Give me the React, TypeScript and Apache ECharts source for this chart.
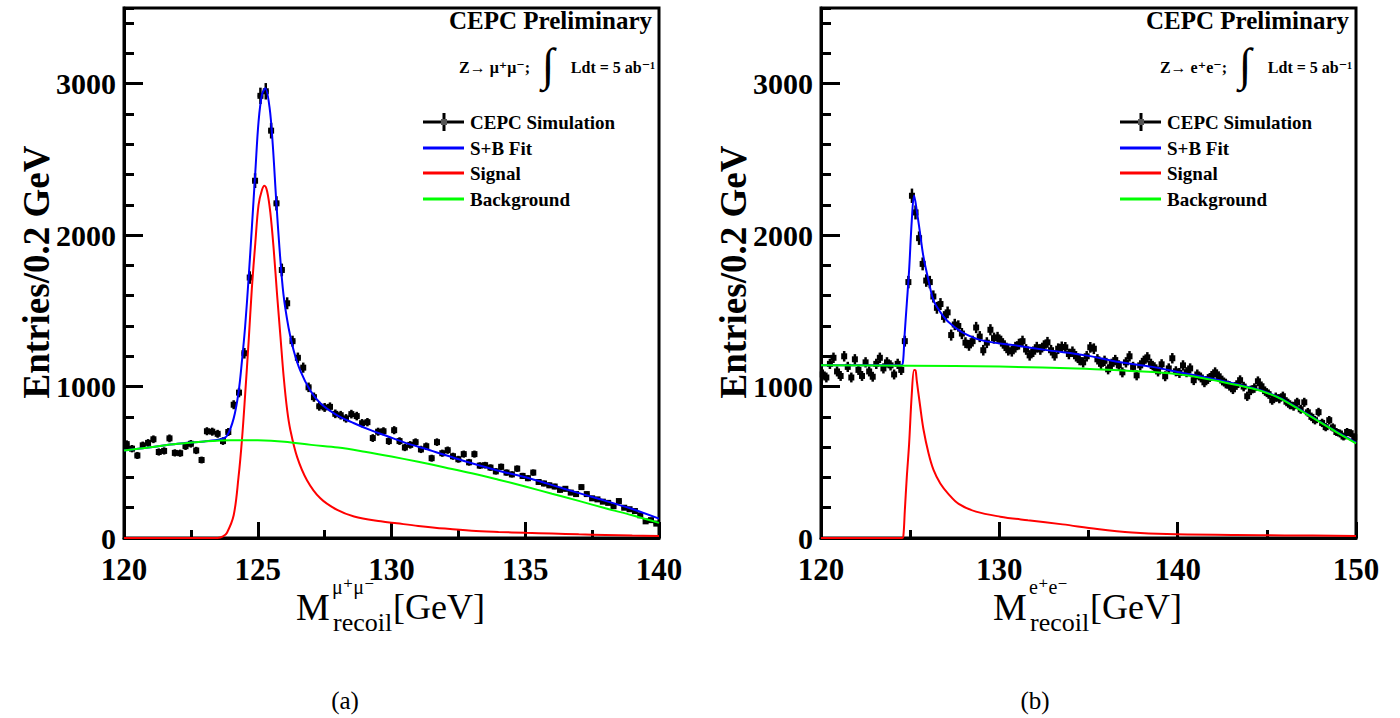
import React, { useEffect, useRef } from "react";
import * as echarts from "echarts";

const FONT = '"Liberation Serif", "DejaVu Serif", "Times New Roman", serif';
const binWidth = 0.2;

// ---------- panel (a): Z -> mu mu, 120-140 GeV, 0.2 GeV bins ----------
const binStartA = 120;
const countsA = [
  620, 590, 545, 612, 628, 652, 568, 575, 658, 562,
  560, 606, 622, 578, 515, 705, 702, 688, 640, 700,
  880, 960, 1220, 1720, 2360, 2920, 2950, 2690, 2210, 1770,
  1550, 1300, 1190, 1125, 995, 930, 870, 862, 866, 820,
  811, 790, 818, 805, 758, 765, 660, 702, 705, 640,
  712, 640, 598, 615, 633, 585, 606, 527, 633, 560,
  580, 540, 520, 554, 500, 554, 478, 481, 465, 440,
  470, 432, 420, 458, 410, 395, 432, 370, 360, 348,
  340, 318, 325, 300, 290, 336, 290, 262, 255, 240,
  232, 210, 244, 200, 190, 178, 150, 110, 118, 95,
];
const sbFitA: [number, number][] = [
  [120, 578], [121, 600], [122, 622], [123, 638], [123.6, 652], [123.85, 675],
  [124.1, 790], [124.28, 960], [124.41, 1170], [124.53, 1400], [124.66, 1720],
  [124.78, 2050], [124.91, 2420], [125.03, 2750], [125.16, 2930], [125.28, 2970],
  [125.44, 2845], [125.56, 2600], [125.69, 2230], [125.81, 1920], [125.96, 1610],
  [126.15, 1390], [126.34, 1240], [126.59, 1105], [126.96, 975], [127.34, 890],
  [127.97, 810], [128.6, 758], [129.22, 712], [129.85, 672], [130.5, 630],
  [131.44, 580], [132.68, 510], [133.93, 448], [135.18, 393], [136.42, 327],
  [137.67, 262], [138.92, 196], [140, 128],
];
const signalA: [number, number][] = [
  [120, 0], [123.5, 0], [123.7, 10], [123.85, 35], [124.1, 150], [124.28, 400],
  [124.41, 650], [124.53, 950], [124.66, 1300], [124.78, 1650], [124.91, 1950],
  [125.03, 2200], [125.16, 2300], [125.25, 2327], [125.35, 2290], [125.47, 2150],
  [125.6, 1898], [125.72, 1613], [125.85, 1327], [125.97, 1063], [126.1, 844],
  [126.22, 712], [126.47, 536], [126.84, 382], [127.34, 262], [127.97, 185],
  [128.6, 142], [129.6, 110], [130.2, 97], [131, 80], [132, 62], [133, 48],
  [134, 40], [135, 34], [136, 29], [137, 24], [138, 20], [139, 16], [140, 13],
];
const bkgA: [number, number][] = [
  [120, 578], [121, 600], [122, 622], [123, 638], [124, 646], [125, 645],
  [126, 636], [127, 615], [128, 598], [129, 570], [130, 538], [131, 503],
  [132, 466], [133, 428], [134, 385], [135, 340], [136, 292], [137, 245],
  [138, 196], [139, 150], [140, 100],
];

// ---------- panel (b): Z -> e e, 120-150 GeV, 0.2 GeV bins ----------
const binStartB = 120;
const countsB = [
  1080, 1060, 1150, 1190, 1100, 1070, 1200, 1130, 1060, 1180,
  1110, 1070, 1160, 1100, 1065, 1150, 1190, 1120, 1160, 1140,
  1080, 1150, 1110, 1300, 1690, 2260, 2150, 1980, 1810, 1700,
  1690, 1595, 1520, 1545, 1460, 1490, 1340, 1410, 1400, 1350,
  1290, 1272, 1300, 1390, 1330, 1240, 1290, 1375, 1320, 1325,
  1300, 1270, 1240, 1233, 1260, 1280, 1300, 1245, 1206, 1230,
  1260, 1245, 1270, 1292, 1240, 1206, 1250, 1262, 1259, 1215,
  1230, 1200, 1175, 1160, 1200, 1259, 1250, 1180, 1150, 1170,
  1114, 1150, 1175, 1140, 1094, 1160, 1200, 1130, 1074, 1140,
  1170, 1193, 1150, 1127, 1100, 1147, 1068, 1120, 1187, 1101,
  1090, 1140, 1095, 1120, 1042, 1080, 1060, 1028, 1050, 1070,
  1094, 1068, 1040, 1020, 1005, 982, 1010, 1042, 1000, 936,
  975, 990, 1035, 1002, 970, 950, 910, 930, 920, 936,
  900, 880, 870, 896, 850, 896, 830, 800, 778, 831,
  760, 732, 778, 730, 700, 690, 670, 700, 692, 666,
];
const sbFitB: [number, number][] = [
  [120, 1140], [124.5, 1141], [124.6, 1165], [124.68, 1327], [124.81, 1547],
  [124.94, 1767], [125.09, 2096], [125.22, 2261], [125.37, 2162], [125.56, 2009],
  [125.75, 1854], [126.03, 1701], [126.31, 1569], [126.69, 1492], [127.15, 1426],
  [127.9, 1360], [129.03, 1305], [130.9, 1272], [132.77, 1239], [134.83, 1206],
  [136.7, 1162], [138.58, 1130], [140.45, 1086], [142.32, 1042], [144.2, 990],
  [145.3, 948], [146.07, 904], [147.0, 838], [147.94, 771], [148.88, 704], [150, 630],
];
const signalB: [number, number][] = [
  [120, 0], [124.55, 0], [124.62, 15], [124.7, 180], [124.81, 400], [124.94, 620],
  [125.09, 950], [125.22, 1110], [125.3, 1107], [125.37, 1040], [125.56, 870],
  [125.75, 715], [126.03, 560], [126.31, 450], [126.69, 360], [127.15, 290],
  [127.72, 225], [128.69, 174], [130.05, 141], [131.6, 117], [133.55, 90],
  [135.49, 60], [137.44, 37], [139.38, 26], [143.26, 20], [146, 17], [150, 14],
];
const bkgB: [number, number][] = [
  [120, 1140], [125, 1138], [130, 1132], [134.83, 1118], [136.7, 1107],
  [138.58, 1096], [140.45, 1075], [142.32, 1035], [144.2, 987], [145.3, 945],
  [146.07, 901], [147.0, 835], [147.94, 768], [148.88, 701], [150, 625],
];

const legendLabels = ["CEPC Simulation", "S+B Fit", "Signal", "Background"];
const legendColors = ["#000000", "#0000ff", "#ff0000", "#00ff00"];

const toPoints = (start: number, counts: number[]) =>
  counts.map((v, i) => [start + binWidth * (i + 0.5), v]);

const renderErr = (_params: any, api: any) => {
  const x = api.value(0);
  const y = api.value(1);
  const e = Math.sqrt(y);
  const c = api.coord([x, y]);
  const l = api.coord([x - binWidth / 2, y]);
  const r = api.coord([x + binWidth / 2, y]);
  const t = api.coord([x, y + e]);
  const b = api.coord([x, y - e]);
  const style = { stroke: "#000", lineWidth: 2.5 };
  return {
    type: "group",
    children: [
      { type: "line", shape: { x1: l[0], y1: c[1], x2: r[0], y2: c[1] }, style },
      { type: "line", shape: { x1: c[0], y1: t[1], x2: c[0], y2: b[1] }, style },
      { type: "rect", shape: { x: c[0] - 3, y: c[1] - 3, width: 6, height: 6 }, style: { fill: "#000" } },
    ],
  };
};

function panelGraphics(dx: number, zText: string, sup: string, caption: string, captionX: number) {
  const els: any[] = [];
  const txt = (x: number, y: number, text: string, size: number, bold: boolean, align: string = "left", extra: any = {}) => ({
    type: "text",
    x,
    y,
    z: 100,
    ...extra,
    style: {
      text,
      fill: "#000",
      font: `${bold ? "bold " : ""}${size}px ${FONT}`,
      align,
      verticalAlign: "middle",
    },
  });
  els.push(txt(652 + dx, 20, "CEPC Preliminary", 25, true, "right"));
  els.push(txt(530 + dx, 67, zText, 16, true, "right"));
  els.push(txt(548 + dx, 64, "∫", 46, false, "center"));
  els.push(txt(655 + dx, 67, "Ldt = 5 ab⁻¹", 16, true, "right"));
  const ly = [122, 148, 173, 199];
  legendLabels.forEach((lab, i) => {
    els.push({
      type: "line",
      z: 100,
      shape: { x1: 423 + dx, y1: ly[i], x2: 464 + dx, y2: ly[i] },
      style: { stroke: legendColors[i], lineWidth: 3 },
    });
    els.push(txt(470 + dx, ly[i], lab, 19, true, "left"));
  });
  els.push({
    type: "line",
    z: 100,
    shape: { x1: 444 + dx, y1: ly[0] - 9, x2: 444 + dx, y2: ly[0] + 9 },
    style: { stroke: "#000", lineWidth: 3 },
  });
  els.push({
    type: "rect",
    z: 101,
    shape: { x: 441 + dx, y: ly[0] - 3, width: 6, height: 6 },
    style: { fill: "#555" },
  });
  // y title
  els.push(txt(36 + dx, 272, "Entries/0.2 GeV", 37, true, "center", { rotation: Math.PI / 2 }));
  // x title
  els.push(txt(296 + dx, 607, "M", 38, false, "left"));
  els.push(txt(332 + dx, 587, sup, 20, false, "left"));
  els.push(txt(333 + dx, 622, "recoil", 26, false, "left"));
  els.push(txt(393 + dx, 607, "[GeV]", 36, false, "left"));
  els.push(txt(captionX, 700, caption, 25, false, "center"));
  return els;
}

function makeXAxis(gridIndex: number, min: number, max: number, interval: number) {
  return {
    gridIndex,
    type: "value",
    min,
    max,
    interval,
    axisLine: { show: true, onZero: false, lineStyle: { color: "#000", width: 3 } },
    axisTick: { show: true, inside: true, length: 16, lineStyle: { color: "#000", width: 3 } },
    minorTick: { show: true, splitNumber: 2, length: 8, lineStyle: { color: "#000", width: 3 } },
    axisLabel: { color: "#000", fontFamily: FONT, fontWeight: "bold", fontSize: 31, margin: 16, formatter: (v: number) => String(v) },
    splitLine: { show: false },
    minorSplitLine: { show: false },
  };
}

function makeYAxes(gridIndex: number) {
  return [
    {
      gridIndex,
      type: "value",
      position: "left",
      min: 0,
      max: 3500,
      interval: 1000,
      axisLine: { show: true, onZero: false, lineStyle: { color: "#000", width: 3 } },
      axisTick: { show: true, inside: true, length: 19, lineStyle: { color: "#000", width: 3 } },
      axisLabel: { color: "#000", fontFamily: FONT, fontWeight: "bold", fontSize: 30, margin: 8, showMaxLabel: false, formatter: (v: number) => String(v) },
      splitLine: { show: false },
    },
    {
      gridIndex,
      type: "value",
      position: "left",
      offset: 0,
      min: 0,
      max: 3500,
      interval: 200,
      axisLine: { show: false },
      axisTick: { show: true, inside: true, length: 10, lineStyle: { color: "#000", width: 3 } },
      axisLabel: { show: false },
      splitLine: { show: false },
    },
  ];
}

function curves(xi: number, yi: number, sb: any, sig: any, bkg: any) {
  const base = { type: "line", xAxisIndex: xi, yAxisIndex: yi, symbol: "none", showSymbol: false, smooth: 0.35 };
  return [
    { ...base, name: "S+B Fit", data: sb, lineStyle: { color: "#0000ff", width: 2 }, z: 3 },
    { ...base, name: "Signal", data: sig, lineStyle: { color: "#ff0000", width: 2 }, z: 4 },
    { ...base, name: "Background", data: bkg, lineStyle: { color: "#00ff00", width: 2 }, z: 5 },
  ];
}

export default function App() {
  const ref = useRef<HTMLDivElement>(null);
  useEffect(() => {
    if (!ref.current) return;
    const chart = echarts.init(ref.current, undefined, { renderer: "svg" });
    const option: any = {
      animation: false,
      backgroundColor: "#ffffff",
      grid: [
        { left: 124, top: 8, width: 535, height: 530, show: true, borderColor: "#000", borderWidth: 3, backgroundColor: "transparent" },
        { left: 821, top: 8, width: 535, height: 530, show: true, borderColor: "#000", borderWidth: 3, backgroundColor: "transparent" },
      ],
      xAxis: [makeXAxis(0, 120, 140, 5), makeXAxis(1, 120, 150, 10)],
      yAxis: [...makeYAxes(0), ...makeYAxes(1)],
      series: [
        { type: "custom", name: "CEPC Simulation", xAxisIndex: 0, yAxisIndex: 0, data: toPoints(binStartA, countsA), renderItem: renderErr, encode: { x: 0, y: 1 }, z: 2 },
        ...curves(0, 0, sbFitA, signalA, bkgA),
        { type: "custom", name: "CEPC Simulation", xAxisIndex: 1, yAxisIndex: 2, data: toPoints(binStartB, countsB), renderItem: renderErr, encode: { x: 0, y: 1 }, z: 2 },
        ...curves(1, 2, sbFitB, signalB, bkgB),
      ],
      graphic: [
        ...panelGraphics(0, "Z→ μ⁺μ⁻;", "μ⁺μ⁻", "(a)", 345),
        ...panelGraphics(697, "Z→ e⁺e⁻;", "e⁺e⁻", "(b)", 1035),
      ],
    };
    chart.setOption(option);
    return () => chart.dispose();
  }, []);
  return (
    <div
      ref={ref}
      style={{ position: "fixed", left: 0, top: 0, width: 1400, height: 718, background: "#fff" }}
    />
  );
}
